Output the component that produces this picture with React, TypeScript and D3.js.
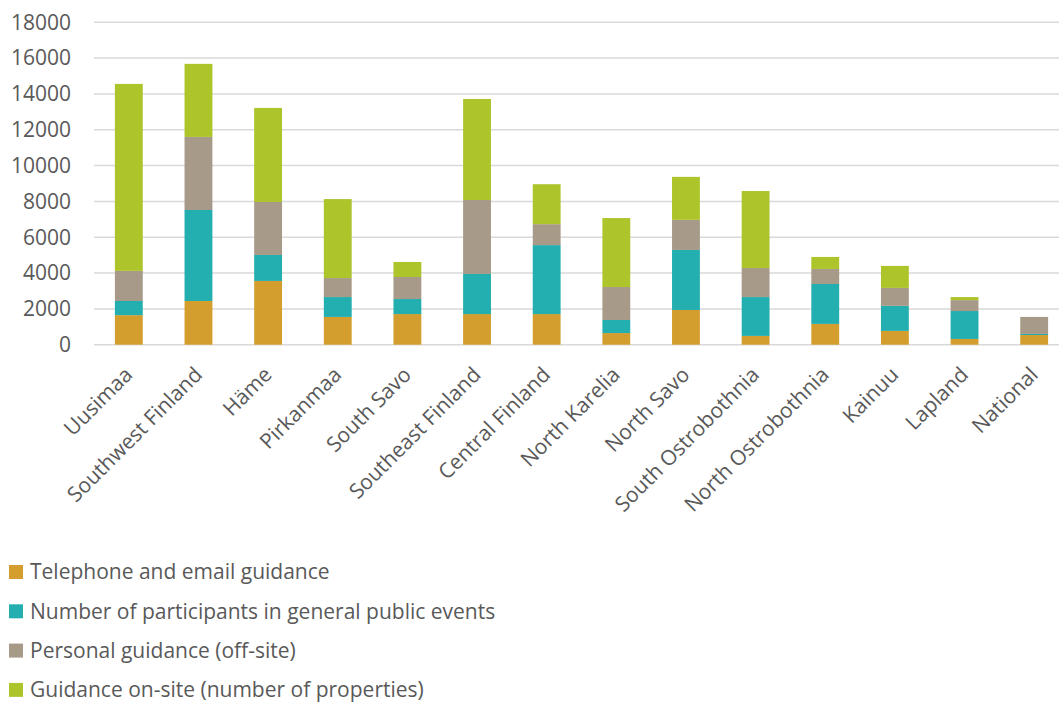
import React from "react";
import * as d3 from "d3";

const categories = [
  "Uusimaa", "Southwest Finland", "Häme", "Pirkanmaa", "South Savo",
  "Southeast Finland", "Central Finland", "North Karelia", "North Savo",
  "South Ostrobothnia", "North Ostrobothnia", "Kainuu", "Lapland", "National",
];
const seriesNames = [
  "Telephone and email guidance",
  "Number of participants in general public events",
  "Personal guidance (off-site)",
  "Guidance on-site (number of properties)",
];
const telephone = [1650, 2440, 3560, 1550, 1710, 1710, 1710, 650, 1940, 490, 1160, 770, 320, 540];
const participants = [790, 5080, 1450, 1110, 840, 2240, 3850, 730, 3350, 2170, 2230, 1400, 1560, 60];
const personal = [1680, 4080, 2960, 1060, 1230, 4130, 1170, 1840, 1680, 1620, 840, 1000, 610, 950];
const onsite = [10440, 4080, 5250, 4410, 840, 5640, 2230, 3850, 2400, 4300, 670, 1230, 170, 0];
const yTicks = [0, 2000, 4000, 6000, 8000, 10000, 12000, 14000, 16000, 18000];
const colors = ["#D39E2E", "#23AEB0", "#A89A88", "#ADC42B"];

const W = 1059, H = 702;
const FONT = "'Open Sans', sans-serif";

export default function App() {
  const x = d3.scaleBand<string>().domain(categories).range([94, 1069]).paddingInner(0.6).paddingOuter(0.3);
  const y = d3.scaleLinear().domain([0, 18000]).range([344.7, 22.3]);
  const rows = categories.map((c, i) => ({
    cat: c,
    s0: telephone[i], s1: participants[i], s2: personal[i], s3: onsite[i],
  }));
  const stacked = d3.stack<any>().keys(["s0", "s1", "s2", "s3"])(rows);

  return (
    <svg width={W} height={H} style={{ position: "absolute", left: 0, top: 0, background: "#fff" }} fontFamily={FONT}>
      {yTicks.map((t) => (
        <g key={t}>
          <line x1={94} x2={1059} y1={y(t)} y2={y(t)} stroke="#D9D9D9" strokeWidth={1.5} />
          <text x={71} y={y(t)} dy="0.35em" textAnchor="end" fontSize={21} fill="#595959">{t}</text>
        </g>
      ))}
      {stacked.map((layer, si) => (
        <g key={si} fill={colors[si]}>
          {layer.map((d: any, i: number) => (
            <rect key={i} x={x(categories[i])} width={x.bandwidth()} y={y(d[1])} height={Math.max(0, y(d[0]) - y(d[1]))} />
          ))}
        </g>
      ))}
      {categories.map((c) => {
        const cx = (x(c) as number) + x.bandwidth() / 2 + 5;
        const cy = 376;
        return (
          <text key={c} transform={`translate(${cx},${cy}) rotate(-45)`} textAnchor="end" fontSize={21} fill="#595959">{c}</text>
        );
      })}
      {seriesNames.map((n, i) => {
        const cy = 572 + i * 39.3;
        return (
          <g key={n}>
            <rect x={9} y={cy - 7} width={14} height={14} fill={colors[i]} />
            <text x={30} y={cy} dy="0.35em" fontSize={21} fill="#595959">{n}</text>
          </g>
        );
      })}
    </svg>
  );
}
